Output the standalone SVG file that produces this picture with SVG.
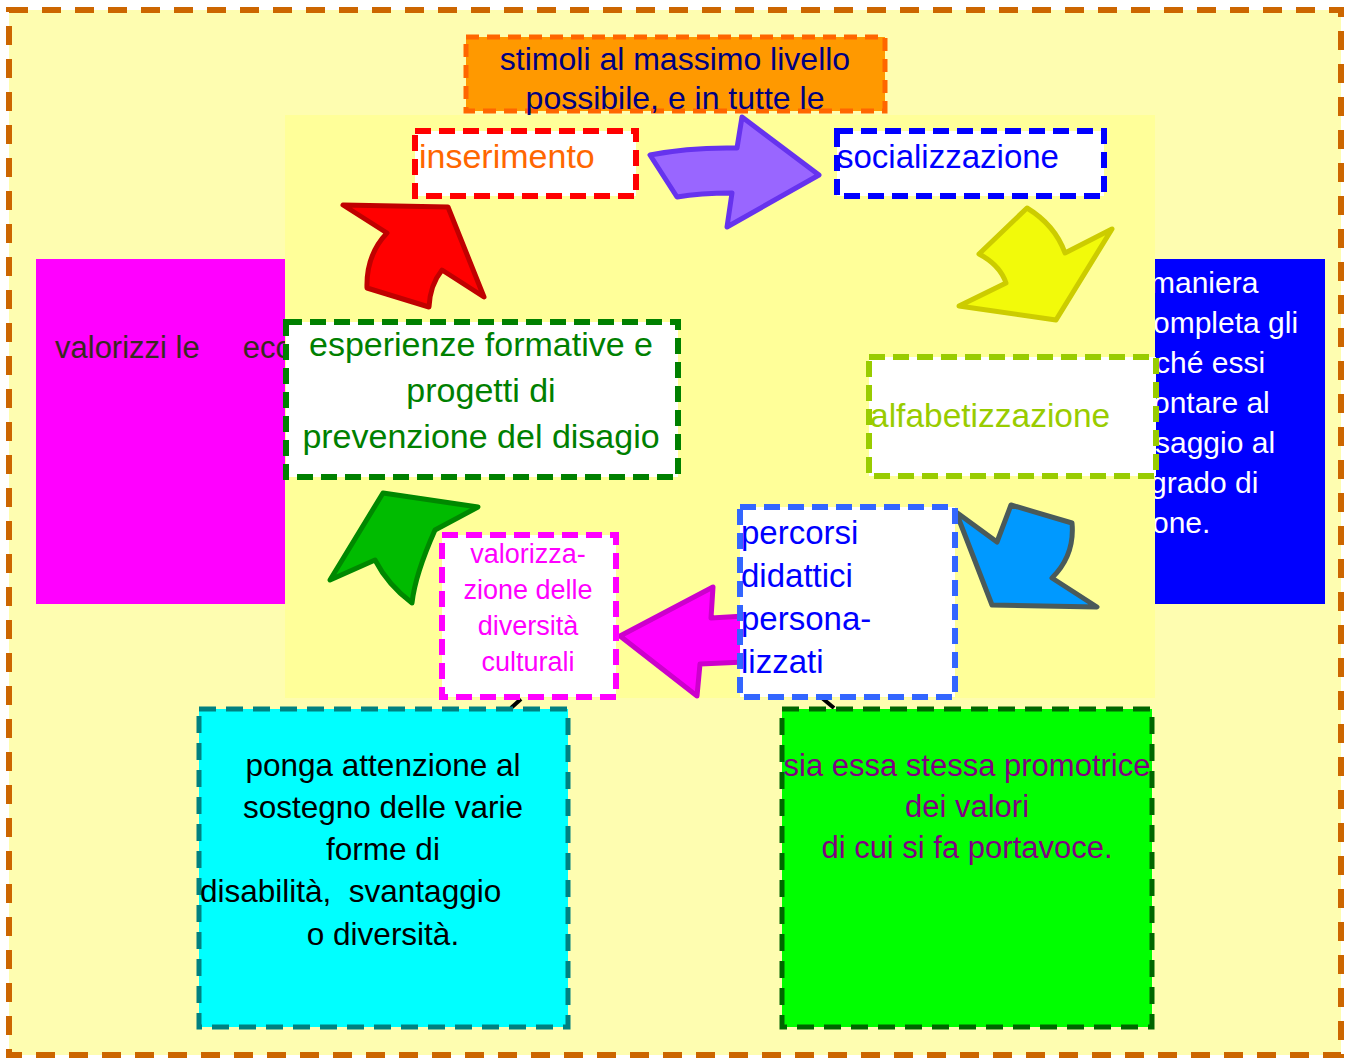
<svg xmlns="http://www.w3.org/2000/svg" width="1350" height="1058" viewBox="0 0 1350 1058">
<style>
text{font-family:"Liberation Sans",Arial,sans-serif;}
.box{stroke-width:6;stroke-dasharray:16 8;}
.arrow{stroke-width:5;stroke-linejoin:round;}
</style>
<rect width="1350" height="1058" fill="#ffffff"/>
<g id="background">
<rect x="9" y="10" width="1332" height="1045" fill="#fefdb0" stroke="#cc6600" stroke-width="6" stroke-dasharray="19 14"/>
</g>
<g id="node-valorizzi">
<rect x="36" y="259" width="249" height="345" fill="#ff00ff"/>
<text x="55" y="358" font-size="31" fill="#3a2a20" xml:space="preserve">valorizzi le     ecc</text>
</g>
<g id="node-maniera">
<rect x="1154" y="259" width="171" height="345" fill="#0000ff"/>
<g font-size="30" fill="#ffffff">
<text x="1150" y="293">maniera</text>
<text x="1153" y="333">ompleta gli</text>
<text x="1155" y="373">ché essi</text>
<text x="1153" y="413">ontare al</text>
<text x="1155" y="453">saggio al</text>
<text x="1150" y="493">grado di</text>
<text x="1152" y="533">one.</text>
</g>
</g>
<g id="node-stimoli">
<rect x="466" y="37" width="419" height="74" fill="#ff9900" stroke="#ff6600" stroke-width="5" stroke-dasharray="13 8"/>
<text x="675" y="70" font-size="32" fill="#000080" text-anchor="middle">stimoli al massimo livello</text>
<text x="675" y="109" font-size="32" fill="#000080" text-anchor="middle">possibile, e in tutte le</text>
</g>
<g id="inner-area">
<rect x="285" y="115" width="870" height="583" fill="#ffff99"/>
</g>
<g id="connectors">
<path class="arrow" d="M343,205 L448,207 L484,297 L442,270 Q430,285 429,307 L367,288 Q366,255 387,233 Z" fill="#ff0000" stroke="#c00000"/>
<path class="arrow" d="M650,155 Q690,147 737,148 L742,117 L819,175 L727,227 L732,193 Q700,193 677,197 Z" fill="#9966ff" stroke="#6633ee"/>
<path class="arrow" d="M1027,208 Q1055,225 1065,253 L1112,229 L1056,320 L959,306 L1006,283 Q1000,265 979,254 Z" fill="#f2fa0a" stroke="#cccc00"/>
<path class="arrow" d="M956,512 L997,542 L1011,505 L1072,523 Q1075,555 1052,578 L1097,607 L992,605 Z" fill="#0099ff" stroke="#4a5a5a"/>
<path class="arrow" d="M620,636 L713,587 L711,618 L745,616 L745,662 L700,664 L697,696 Z" fill="#ff00ff" stroke="#cc00cc"/>
<path class="arrow" d="M383,493 L478,507 L435,530 Q415,575 412,603 Q388,585 375,560 L330,580 Z" fill="#00bb00" stroke="#008800"/>
<path d="M511,708 L521,699" stroke="#000000" stroke-width="4"/>
<path d="M822,698 L834,708" stroke="#000000" stroke-width="4"/>
</g>
<g id="node-inserimento">
<rect x="415" y="131" width="221" height="65" fill="#ffffff" stroke="#ff0000" class="box"/>
<text x="419" y="168" font-size="34" fill="#ff6600">inserimento</text>
</g>
<g id="node-socializzazione">
<rect x="837" y="131" width="267" height="65" fill="#ffffff" stroke="#0000ff" class="box"/>
<text x="837" y="168" font-size="33" fill="#0000ff">socializzazione</text>
</g>
<g id="node-alfabetizzazione">
<rect x="869" y="357" width="287" height="119" fill="#ffffff" stroke="#99cc00" class="box"/>
<text x="870" y="427" font-size="33.5" fill="#99cc00">alfabetizzazione</text>
</g>
<g id="node-percorsi">
<rect x="740" y="507" width="215" height="190" fill="#ffffff" stroke="#3366ff" class="box"/>
<g font-size="33" fill="#0000ff">
<text x="741" y="544">percorsi</text>
<text x="741" y="587">didattici</text>
<text x="741" y="630">persona-</text>
<text x="741" y="673">lizzati</text>
</g>
</g>
<g id="node-valorizzazione">
<rect x="442" y="535" width="174" height="162" fill="#ffffff" stroke="#ff00ff" class="box"/>
<g font-size="27" fill="#ff00ff" text-anchor="middle">
<text x="528" y="563">valorizza-</text>
<text x="528" y="599">zione delle</text>
<text x="528" y="635">diversità</text>
<text x="528" y="671">culturali</text>
</g>
</g>
<g id="node-esperienze">
<rect x="286" y="322" width="392" height="155" fill="#ffffff" stroke="#008000" class="box"/>
<g font-size="34" fill="#008000" text-anchor="middle">
<text x="481" y="356">esperienze formative e</text>
<text x="481" y="402">progetti di</text>
<text x="481" y="448">prevenzione del disagio</text>
</g>
</g>
<g id="node-ponga">
<rect x="199" y="709" width="369" height="318" fill="#00ffff" stroke="#008080" stroke-width="5" stroke-dasharray="17 10"/>
<g font-size="31.5" fill="#000000">
<text x="383" y="776" text-anchor="middle">ponga attenzione al</text>
<text x="383" y="818" text-anchor="middle">sostegno delle varie</text>
<text x="383" y="860" text-anchor="middle">forme di</text>
<text x="200" y="902" xml:space="preserve">disabilità,  svantaggio</text>
<text x="383" y="945" text-anchor="middle">o diversità.</text>
</g>
</g>
<g id="node-sia">
<rect x="782" y="709" width="370" height="318" fill="#00ff00" stroke="#006600" stroke-width="5" stroke-dasharray="17 10"/>
<g font-size="31" fill="#800080" text-anchor="middle">
<text x="967" y="776">sia essa stessa promotrice</text>
<text x="967" y="817">dei valori</text>
<text x="967" y="858">di cui si fa portavoce.</text>
</g>
</g>
</svg>
